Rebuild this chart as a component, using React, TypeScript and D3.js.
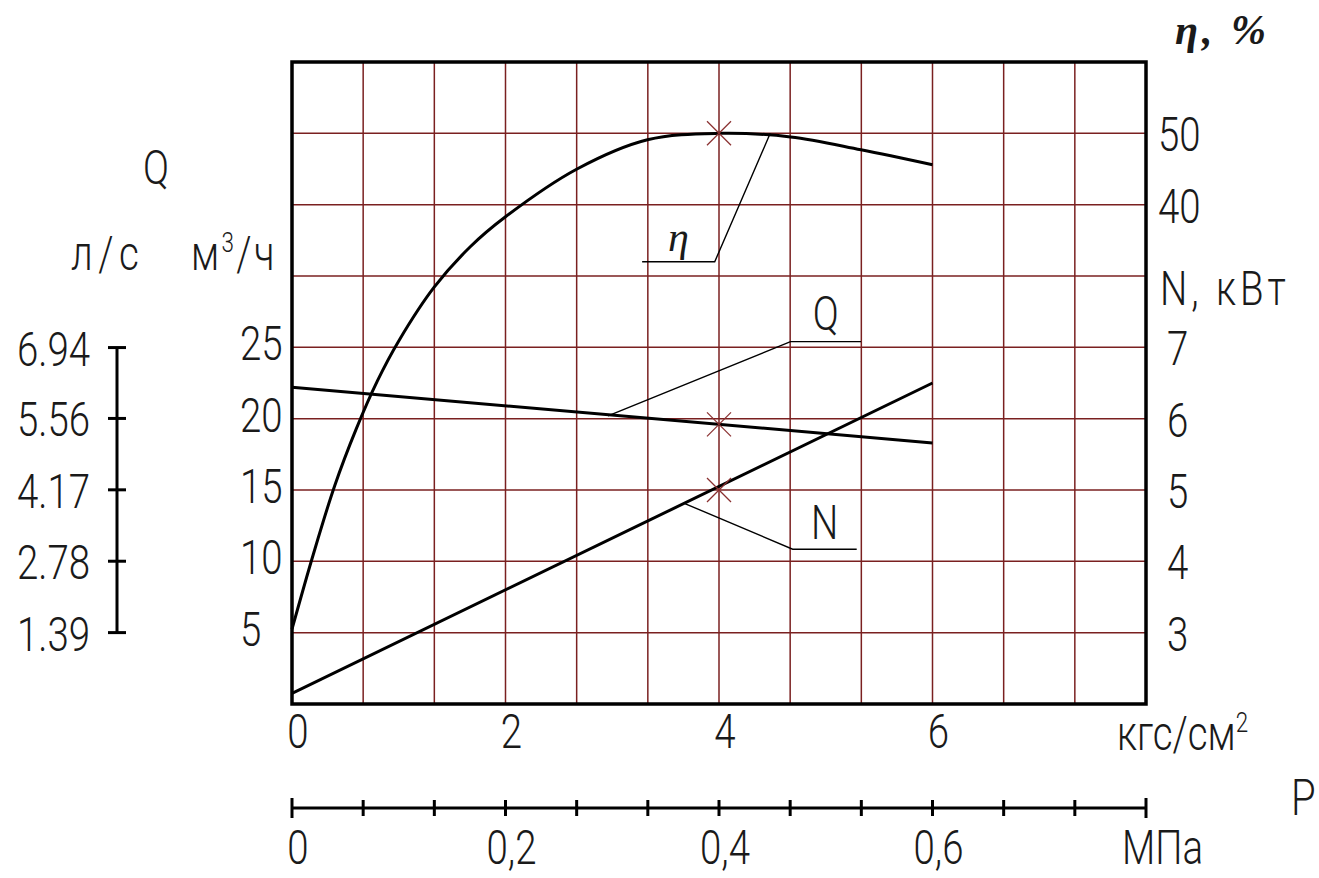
import React from 'react';
import * as d3 from 'd3';

// pressure, кгс/см²
const etaP = [0, 0.2, 0.4, 0.6, 0.8, 1, 1.33, 1.67, 2, 2.67, 3.33, 4, 4.67, 5.33, 6];
// efficiency, %
const etaVal = [-19.5, -9, 0.6, 8.5, 15.3, 20.9, 28.4, 34.1, 38.3, 45, 49.1, 50, 49.5, 47.7, 45.6];

const qP = [0, 6];
const qVal = [22.2, 18.3]; // м³/ч
const nP = [0, 6];
const nVal = [2.15, 6.5]; // кВт

const markP = 4;
const markEta = 50;
const markQ = 19.6;
const markN = 5;

const qTicks = [5, 10, 15, 20, 25];
const lsTicks = ['1.39', '2.78', '4.17', '5.56', '6.94'];
const nTicks = [3, 4, 5, 6, 7];
const etaTicks = [40, 50];
const kgfTicks = [0, 2, 4, 6];
const mpaTicks = [0, 0.2, 0.4, 0.6];
const mpaLabels = ['0', '0,2', '0,4', '0,6'];

// leader lines: [x, value] in data units
const etaLeader = [[3.28, 32], [3.96, 32], [4.48, 50]];
const qLeader = [[2.96, 20.2], [4.67, 25.4], [5.33, 25.4]];
const nLeader = [[3.68, 4.81], [4.69, 4.17], [5.29, 4.17]];

const W = 1319;
const H = 878;
const left = 292, right = 1146, top = 62, bottom = 704;

const grid = '#7a2020';
const ink = '#1a1a1a';

// thin narrow lettering like the drawing font
const T = ({ x, y, anchor = 'start', size = 48, ls = 0, children }: any) => (
  <text
    transform={`translate(${x},${y}) scale(0.8,1)`}
    textAnchor={anchor}
    fontFamily="Roboto, 'DejaVu Sans', sans-serif"
    fontWeight={300}
    fontSize={size}
    letterSpacing={ls}
    fill={ink}
  >
    {children}
  </text>
);

export default function App() {
  const x = d3.scaleLinear().domain([0, 8]).range([left, right]);
  const xMpa = d3.scaleLinear().domain([0, 0.8]).range([left, right]);
  const yQ = d3.scaleLinear().domain([0, 45]).range([bottom, top]);
  const yLs = d3.scaleLinear().domain([0, 12.5]).range([bottom, top]);
  const yN = d3.scaleLinear().domain([2, 11]).range([bottom, top]);
  const yEta = d3.scaleLinear().domain([-30, 60]).range([bottom, top]);

  const cols = d3.range(0, 13).map(i => (i * 8) / 12);
  const rows = d3.range(0, 46, 5);

  const etaLine = d3.line<number>()
    .x((_, i) => x(etaP[i]))
    .y(d => yEta(d))
    .curve(d3.curveCatmullRom.alpha(0.5));
  const qLine = d3.line<number>().x((_, i) => x(qP[i])).y(d => yQ(d));
  const nLine = d3.line<number>().x((_, i) => x(nP[i])).y(d => yN(d));
  const lead = (y: d3.ScaleLinear<number, number>) =>
    d3.line<number[]>().x(d => x(d[0])).y(d => y(d[1]));

  const star = (cx: number, cy: number) => (
    <g stroke="#8a3030" strokeWidth={1.3}>
      <line x1={cx - 12} y1={cy - 12} x2={cx + 12} y2={cy + 12} />
      <line x1={cx + 12} y1={cy - 12} x2={cx - 12} y2={cy + 12} />
    </g>
  );

  return (
    <svg width={W} height={H} style={{ position: 'absolute', left: 0, top: 0, background: '#fff' }}>
      {/* grid */}
      <g stroke={grid} strokeWidth={1.5}>
        {cols.map(c => <line key={'c' + c} x1={x(c)} x2={x(c)} y1={top} y2={bottom} />)}
        {rows.map(r => <line key={'r' + r} x1={left} x2={right} y1={yQ(r)} y2={yQ(r)} />)}
      </g>
      <rect x={left} y={top} width={right - left} height={bottom - top} fill="none" stroke="#000" strokeWidth={3.5} />

      {/* curves */}
      <path d={etaLine(etaVal) || ''} fill="none" stroke="#000" strokeWidth={3} />
      <path d={qLine(qVal) || ''} fill="none" stroke="#000" strokeWidth={3} />
      <path d={nLine(nVal) || ''} fill="none" stroke="#000" strokeWidth={3} />

      {star(x(markP), yEta(markEta))}
      {star(x(markP), yQ(markQ))}
      {star(x(markP), yN(markN))}

      {/* leaders */}
      <g fill="none" stroke="#000" strokeWidth={1.4}>
        <path d={lead(yEta)(etaLeader) || ''} />
        <path d={lead(yQ)(qLeader) || ''} />
        <path d={lead(yN)(nLeader) || ''} />
      </g>
      <text x={x(3.62)} y={yEta(33.5)} textAnchor="middle" fontFamily="'Liberation Serif', serif" fontStyle="italic" fontSize={42} fill={ink}>η</text>
      <T x={x(5.0)} y={yQ(26.2)} anchor="middle">Q</T>
      <T x={x(4.99)} y={yN(4.31)} anchor="middle">N</T>

      {/* left Q axis, м³/ч */}
      {qTicks.map(t => (
        <T key={'q' + t} x={240} y={yQ(t) + 13}>{t}</T>
      ))}
      {/* л/с scale */}
      <g stroke="#000" strokeWidth={3}>
        <line x1={117} x2={117} y1={yLs(+lsTicks[4])} y2={yLs(+lsTicks[0])} />
        {lsTicks.map(t => <line key={'lt' + t} x1={108} x2={126} y1={yLs(+t)} y2={yLs(+t)} />)}
      </g>
      {lsTicks.map(t => (
        <T key={'l' + t} x={17} y={yLs(+t) + 18}>{t}</T>
      ))}
      <T x={143} y={184}>Q</T>
      <T x={71} y={270} ls={7}>л/с</T>
      <T x={191} y={270} ls={3}>м<tspan fontSize={28} dy={-18}>3</tspan><tspan dy={18}>/ч</tspan></T>

      {/* right axes */}
      {etaTicks.map(t => (
        <T key={'e' + t} x={1158} y={yEta(t) + 18}>{t}</T>
      ))}
      {nTicks.map(t => (
        <T key={'n' + t} x={1167} y={yN(t) + 18}>{t}</T>
      ))}
      <T x={1160} y={305} ls={5}>N, кВт</T>
      <text x={1175} y={44} fontFamily="'Liberation Serif', serif" fontStyle="italic" fontWeight="bold" fontSize={42} letterSpacing={4} fill={ink}>η, %</text>

      {/* pressure, кгс/см² */}
      {kgfTicks.map(t => (
        <T key={'k' + t} x={x(t) + 6} y={748} anchor="middle">{t}</T>
      ))}
      <T x={1117} y={750}>кгс/см<tspan fontSize={28} dy={-18}>2</tspan></T>

      {/* pressure, МПа */}
      <g stroke="#000" strokeWidth={3}>
        <line x1={xMpa(0)} x2={xMpa(0.8)} y1={808} y2={808} />
        {cols.map(c => <line key={'m' + c} x1={x(c)} x2={x(c)} y1={c === 0 || c === 8 ? 798 : 800} y2={c === 0 || c === 8 ? 818 : 816} />)}
      </g>
      {mpaTicks.map((t, i) => (
        <T key={'mp' + t} x={xMpa(t) + 6} y={864} anchor="middle">{mpaLabels[i]}</T>
      ))}
      <T x={1122} y={864}>МПа</T>
      <T x={1291} y={815} size={50}>P</T>
    </svg>
  );
}
